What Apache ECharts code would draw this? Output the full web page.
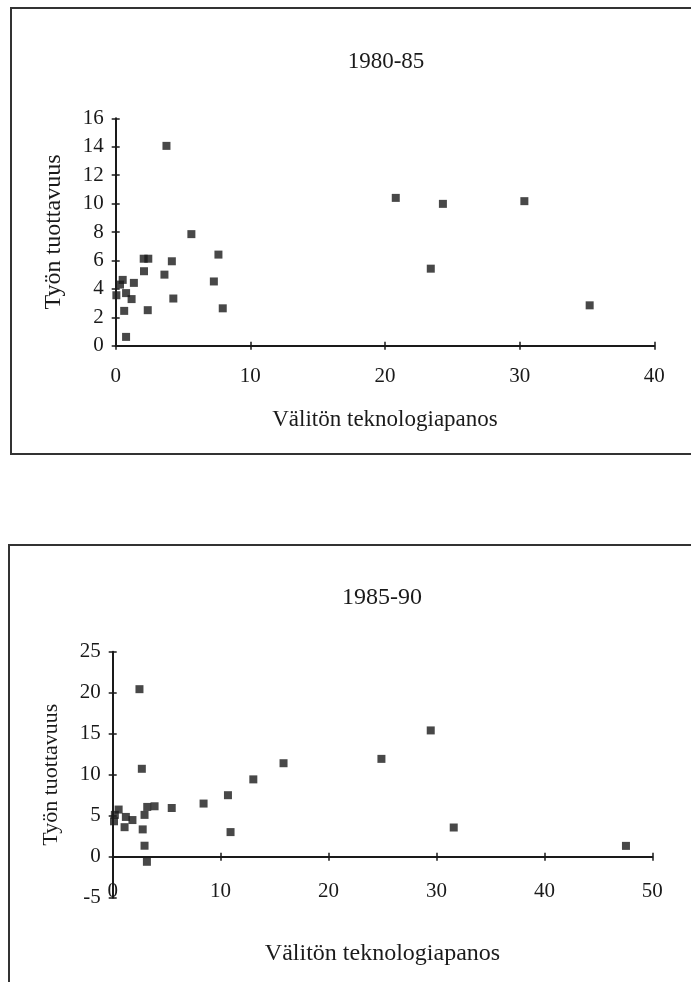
<!DOCTYPE html>
<html>
<head>
<meta charset="utf-8">
<script src="https://cdn.jsdelivr.net/npm/echarts@6/dist/echarts.min.js"></script>
<style>
  html, body { margin: 0; padding: 0; background: #fff; }
  #chart { width: 691px; height: 982px; }
</style>
</head>
<body>
<div id="chart"></div>
<script>
// 1980-85 panel
const titleTop = '1980-85'
const xTop = [0.05, 0.32, 0.52, 0.77, 1.18, 1.35, 0.63, 0.77, 2.1, 2.08, 2.42, 2.38, 3.62, 3.77, 4.17, 4.28, 5.62, 7.29, 7.63, 7.95, 20.8, 23.4, 24.3, 30.35, 35.2]
const yTop = [3.55, 4.3, 4.63, 3.7, 3.28, 4.42, 2.45, 0.62, 5.24, 6.12, 6.12, 2.5, 5.0, 14.06, 5.94, 3.32, 7.85, 4.52, 6.41, 2.63, 10.4, 5.42, 9.98, 10.17, 2.84]
const xTicksTop = [0, 40, 10]   // min, max, interval
const yTicksTop = [0, 16, 2]

// 1985-90 panel
const titleBottom = '1985-90'
const xBottom = [0.12, 0.2, 0.55, 1.1, 1.22, 1.83, 2.48, 2.7, 2.78, 2.95, 2.95, 3.17, 3.2, 3.88, 5.47, 8.42, 10.68, 10.92, 13.03, 15.83, 24.9, 29.47, 31.6, 47.56]
const yBottom = [4.32, 5.1, 5.75, 3.6, 4.85, 4.47, 20.43, 10.72, 3.33, 5.1, 1.34, -0.62, 6.07, 6.15, 5.94, 6.48, 7.5, 3.0, 9.43, 11.4, 11.93, 15.4, 3.56, 1.32]
const xTicksBottom = [0, 50, 10]
const yTicksBottom = [-5, 25, 5]

const xName = 'Välitön teknologiapanos'
const yName = 'Työn tuottavuus'

const font = 'Liberation Serif, Times New Roman, serif'
const ink = '#1a1a1a'

const zip = (xs, ys) => xs.map((x, i) => [x, ys[i]])

// main axis (line, labels, outer half of tick) + a copy that only draws the inner half of the tick
const makeX = (grid, ticks, name, gap, nameSize, labelMargin) => [
  {
    type: 'value', gridIndex: grid, min: ticks[0], max: ticks[1], interval: ticks[2],
    position: 'bottom',
    name: name, nameLocation: 'middle', nameGap: gap,
    nameTextStyle: { fontFamily: font, fontSize: nameSize, color: ink },
    axisLine: { onZero: true, lineStyle: { color: ink, width: 2 } },
    axisTick: { show: true, length: 4, lineStyle: { color: ink, width: 1.5 } },
    axisLabel: { margin: labelMargin, fontFamily: font, fontSize: 21, color: ink },
    splitLine: { show: false }
  },
  {
    type: 'value', gridIndex: grid, min: ticks[0], max: ticks[1], interval: ticks[2],
    position: 'bottom',
    axisLine: { show: false, onZero: true },
    axisTick: { show: true, inside: true, length: 4, lineStyle: { color: ink, width: 1.5 } },
    axisLabel: { show: false },
    splitLine: { show: false }
  }
]

const makeY = (grid, ticks, name, gap, nameSize) => [
  {
    type: 'value', gridIndex: grid, min: ticks[0], max: ticks[1], interval: ticks[2],
    position: 'left',
    name: name, nameLocation: 'middle', nameGap: gap,
    nameTextStyle: { fontFamily: font, fontSize: nameSize, color: ink },
    axisLine: { onZero: false, lineStyle: { color: ink, width: 2 } },
    axisTick: { show: true, length: 4, lineStyle: { color: ink, width: 1.5 } },
    axisLabel: { margin: 12, fontFamily: font, fontSize: 21, color: ink },
    splitLine: { show: false }
  },
  {
    type: 'value', gridIndex: grid, min: ticks[0], max: ticks[1], interval: ticks[2],
    position: 'left',
    axisLine: { show: false, onZero: false },
    axisTick: { show: true, inside: true, length: 4, lineStyle: { color: ink, width: 1.5 } },
    axisLabel: { show: false },
    splitLine: { show: false }
  }
]

const scatter = (grid, data) => ({
  type: 'scatter',
  xAxisIndex: grid * 2,
  yAxisIndex: grid * 2,
  symbol: 'rect',
  symbolSize: 8,
  itemStyle: { color: ink },
  data: data
})

const chart = echarts.init(document.getElementById('chart'), null, { renderer: 'canvas' })

chart.setOption({
  backgroundColor: '#fff',
  animation: false,
  graphic: [
    { type: 'rect', shape: { x: 11, y: 8, width: 700, height: 446 }, style: { fill: 'none', stroke: '#333', lineWidth: 2 } },
    { type: 'rect', shape: { x: 9, y: 545, width: 700, height: 480 }, style: { fill: 'none', stroke: '#333', lineWidth: 2 } },
    { type: 'text', x: 386, y: 62, style: { text: titleTop, font: '23px ' + font, fill: ink, textAlign: 'center', textVerticalAlign: 'middle' } },
    { type: 'text', x: 382, y: 598, style: { text: titleBottom, font: '24px ' + font, fill: ink, textAlign: 'center', textVerticalAlign: 'middle' } }
  ],
  grid: [
    { left: 115.7, top: 118.3, width: 538.6, height: 227.4, containLabel: false, outerBoundsMode: 'none' },
    { left: 112.7, top: 651.7, width: 539.6, height: 246, containLabel: false, outerBoundsMode: 'none' }
  ],
  xAxis: [
    ...makeX(0, xTicksTop, xName, 63, 23, 20),
    ...makeX(1, xTicksBottom, xName, 44, 24, -17)
  ],
  yAxis: [
    ...makeY(0, yTicksTop, yName, 50, 24),
    ...makeY(1, yTicksBottom, yName, 50, 22)
  ],
  series: [
    scatter(0, zip(xTop, yTop)),
    scatter(1, zip(xBottom, yBottom))
  ]
})
</script>
</body>
</html>
